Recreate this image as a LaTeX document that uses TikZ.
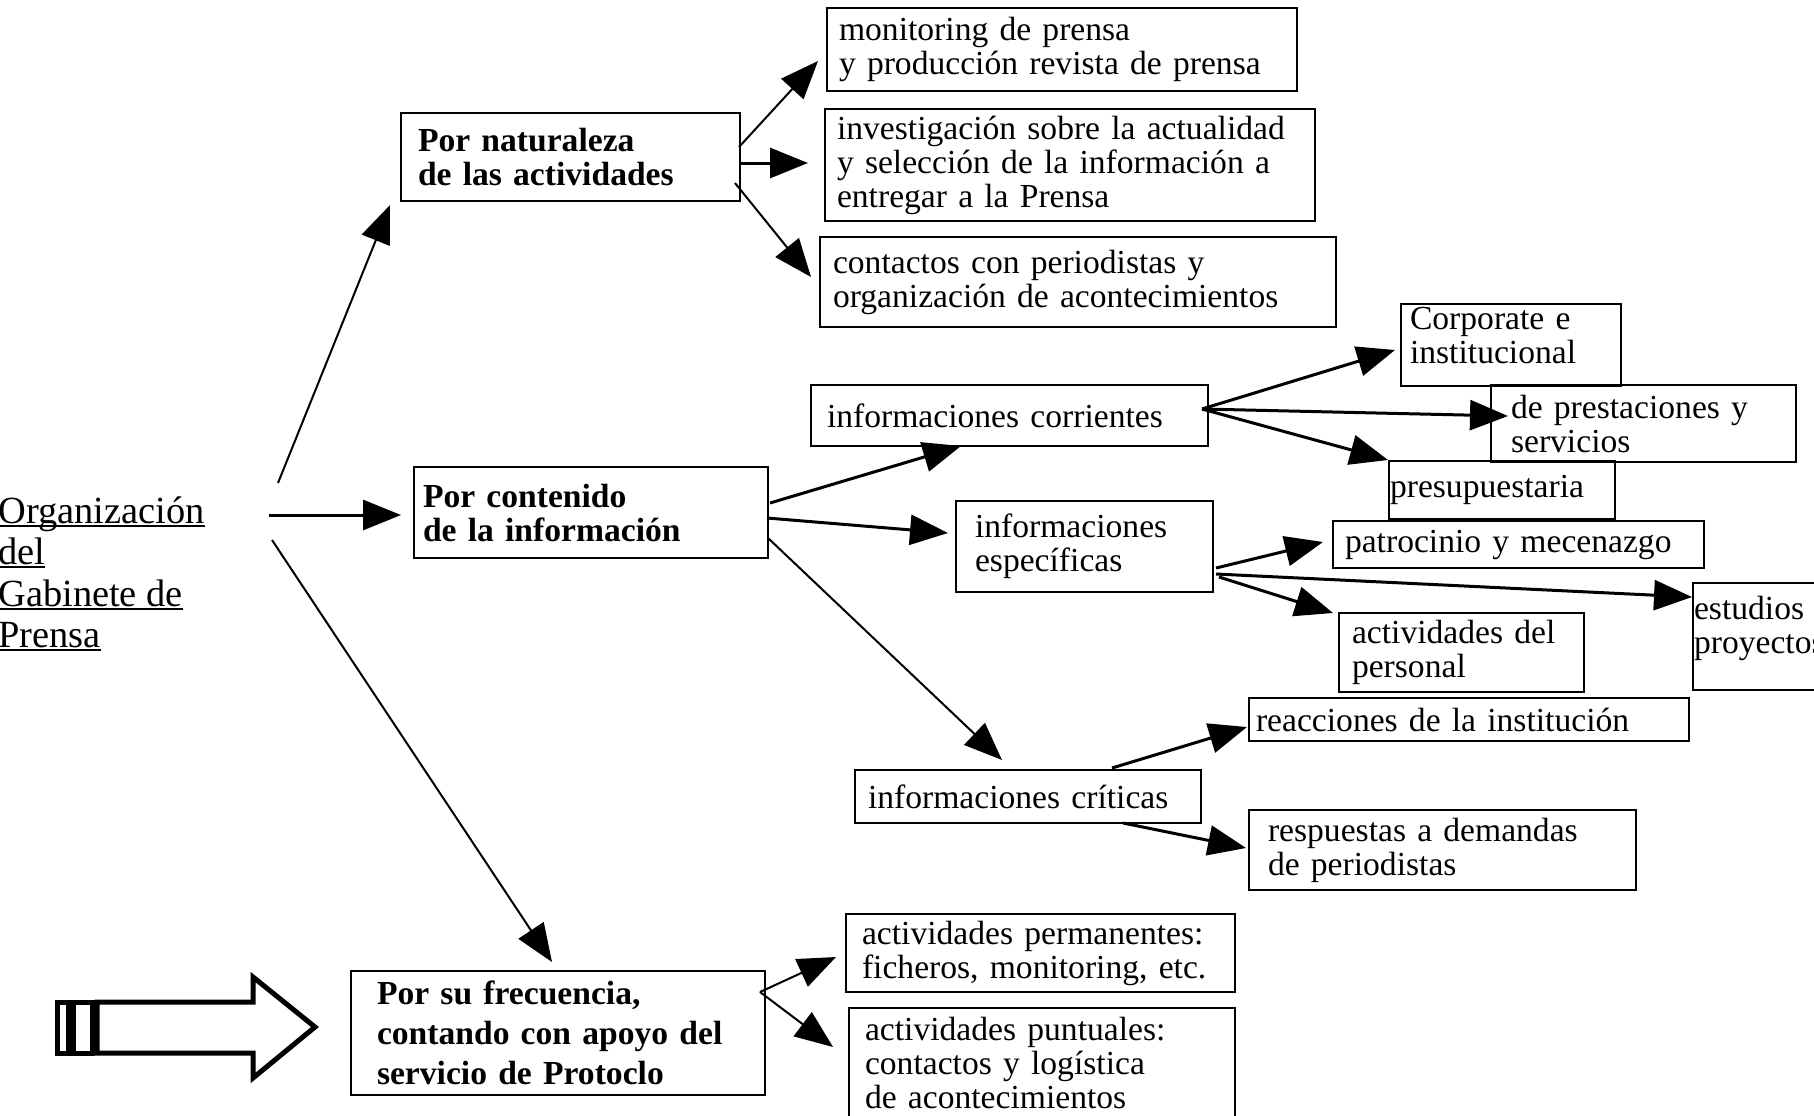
\documentclass[tikz,border=0pt]{standalone}
\usepackage{fontspec}
\setmainfont{Liberation Serif}
\usetikzlibrary{arrows.meta,calc}
\newcommand\ulx[1]{\setbox0\hbox{#1}\rlap{\rule[-1.8pt]{\wd0}{1pt}}\box0}
\begin{document}
\begin{tikzpicture}[x=0.5pt,y=-0.5pt,
  bx/.style={draw,line width=1.4pt,anchor=north west,align=left,inner ysep=0pt,outer sep=0pt,font=\fontsize{16.8}{17}\selectfont},
  bbx/.style={bx,font=\fontsize{16.8}{17}\selectfont\bfseries},
  thinarr/.style={line width=1pt,-{Triangle[length=19pt,width=15pt]}},
  thickarr/.style={line width=1.5pt,-{Triangle[length=19pt,width=15pt]}},
  orgtxt/.style={anchor=base west,inner sep=0pt,font=\fontsize{19.2}{20.5}\selectfont},
  hollow/.style={line width=2.5pt,line join=miter}]
\useasboundingbox (0,0) rectangle (1814,1115);

% Organizacion
\node[orgtxt] (org1) at (-2,523) {\ulx{Organización}};
\node[orgtxt] (org2) at (-2,564) {\ulx{del}};
\node[orgtxt] (org3) at (-2,606) {\ulx{Gabinete de}};
\node[orgtxt] (org4) at (-2,647) {\ulx{Prensa}};
\coordinate (o1) at (278,483);
\coordinate (o2) at (269,515);
\coordinate (o3) at (272,540);

% level 1
\node[bbx,text width=152.5pt,inner xsep=8.5pt,minimum height=44pt] (nat) at (401,113) {\mbox{Por naturaleza}\\\mbox{de las actividades}};
\node[bbx,text width=168pt,inner xsep=4.5pt,minimum height=45.5pt] (cnt) at (414,467) {\mbox{Por contenido}\\\mbox{de la información}};
\node[bbx,font=\fontsize{16.8}{20}\selectfont\bfseries,text width=181pt,inner xsep=13pt,minimum height=62pt] (frq) at (351,971) {\mbox{Por su frecuencia,}\\\mbox{contando con apoyo del}\\\mbox{servicio de Protoclo}};

% naturaleza children
\node[bx,text width=223pt,inner xsep=6pt,minimum height=41.5pt] (mon) at (827,8) {\mbox{monitoring de prensa}\\\mbox{y producción revista de prensa}};
\node[bx,text width=233pt,inner xsep=6pt,minimum height=56pt] (inv) at (825,109) {\mbox{investigación sobre la actualidad}\\\mbox{y selección de la información a}\\\mbox{entregar a la Prensa}};
\node[bx,text width=245pt,inner xsep=6.5pt,minimum height=45pt] (con) at (820,237) {\mbox{contactos con periodistas y}\\\mbox{organización de acontecimientos}};

% contenido children
\node[bx,text width=182.5pt,inner xsep=8pt,minimum height=30.5pt] (cor) at (811,385) {\mbox{informaciones corrientes}};
\node[bx,text width=109.5pt,inner xsep=9.5pt,minimum height=45.5pt] (esp) at (956,501) {\mbox{informaciones}\\\mbox{específicas}};
\node[bx,text width=160pt,inner xsep=6.5pt,minimum height=26.5pt] (cri) at (855,770) {\mbox{informaciones críticas}};

% corrientes children
\node[bx,text width=101pt,inner xsep=4.5pt,minimum height=41pt] (corp) at (1401,304) {\mbox{Corporate e}\\\mbox{institucional}\rule[-9.7pt]{0pt}{9.7pt}};
\node[bx,text width=132.5pt,inner xsep=10pt,minimum height=38.5pt] (pre) at (1491,385) {\mbox{de prestaciones y}\\\mbox{servicios}};
\node[bx,text width=112pt,inner xsep=0.5pt,minimum height=29pt] (psp) at (1389,461) {\mbox{presupuestaria}};

% especificas children
\node[bx,text width=173.5pt,inner xsep=6pt,minimum height=23.5pt] (pat) at (1333,521) {\mbox{patrocinio y mecenazgo}};
\node[bx,text width=119pt,inner xsep=0.5pt,minimum height=53.5pt] (est) at (1693,583) {\mbox{estudios y}\\\mbox{proyectos}\rule[-11.7pt]{0pt}{11.7pt}};
\node[bx,text width=109.5pt,inner xsep=6.5pt,minimum height=39.5pt] (per) at (1339,613) {\mbox{actividades del}\\\mbox{personal}};

% criticas children
\node[bx,text width=213pt,inner xsep=3.5pt,minimum height=21.5pt] (rea) at (1249,698) {\mbox{reacciones de la institución}};
\node[bx,text width=174.5pt,inner xsep=9.5pt,minimum height=40pt] (res) at (1249,810) {\mbox{respuestas a demandas}\\\mbox{de periodistas}};

% frecuencia children
\node[bx,text width=178.5pt,inner xsep=8pt,minimum height=39pt] (prm) at (846,914) {\mbox{actividades permanentes:}\\\mbox{ficheros, monitoring, etc.}};
\node[bx,text width=177pt,inner xsep=8pt,minimum height=54.5pt] (pun) at (849,1008) {\mbox{actividades puntuales:}\\\mbox{contactos y logística}\\\mbox{de acontecimientos}};

% connectors from Organizacion
\draw[thinarr] (o1) -- ($(nat.south west)+(-11,4)$);
\draw[thickarr] (o2) -- ($(cnt.north west)+(-13,48)$);
\draw[thinarr] (o3) -- ($(frq.north west)+(201,-9)$);

% naturaleza
\draw[thinarr] ($(nat.north east)+(-1,34)$) -- ($(mon.north west)+(-9,53)$);
\draw[thickarr] ($(nat.north east)+(-1,50)$) -- ($(inv.north west)+(-17,54)$);
\draw[thinarr] ($(nat.north east)+(-5,70)$) -- ($(con.north west)+(-9,40)$);

% contenido
\draw[thickarr] ($(cnt.north east)+(2,36)$) -- ($(cor.south west)+(150,0)$);
\draw[thickarr] ($(cnt.north east)+(-1,51)$) -- ($(esp.north west)+(-8,32)$);
\draw[thinarr] ($(cnt.north east)+(0,71)$) -- ($(cri.north west)+(147,-10)$);

% corrientes
\coordinate (cs) at ($(cor.north east)+(-6,24)$);
\draw[thickarr] (cs) -- ($(corp.north west)+(-6,46)$);
\draw[thickarr] (cs) -- ($(pre.north west)+(17,31)$);
\draw[thickarr] (cs) -- ($(psp.north west)+(-1,-1)$);

% especificas
\draw[thickarr] ($(esp.north east)+(3,67)$) -- ($(pat.north west)+(-10,21)$);
\draw[thickarr] ($(esp.north east)+(3,73)$) -- ($(est.north west)+(-1,14)$);
\draw[thickarr] ($(esp.north east)+(6,76)$) -- ($(per.north west)+(-6,0)$);

% criticas
\draw[thickarr] ($(cri.north west)+(257,-2)$) -- ($(rea.north west)+(-2,29)$);
\draw[thickarr] ($(cri.south west)+(268,0)$) -- ($(res.north west)+(-3,38)$);

% frecuencia
\coordinate (fs) at ($(frq.north east)+(-5,21)$);
\draw[thinarr] (fs) -- ($(prm.north west)+(-10,43)$);
\draw[thinarr] (fs) -- ($(pun.north west)+(-16,39)$);

% big hollow arrow
\draw[hollow] (57,1002) rectangle (68,1053);
\draw[hollow] (73,1002) rectangle (92,1053);
\draw[hollow] (97,1002) -- (253,1002) -- (253,977) -- (315,1027) -- (253,1078) -- (253,1053) -- (97,1053) -- cycle;
\end{tikzpicture}
\end{document}
